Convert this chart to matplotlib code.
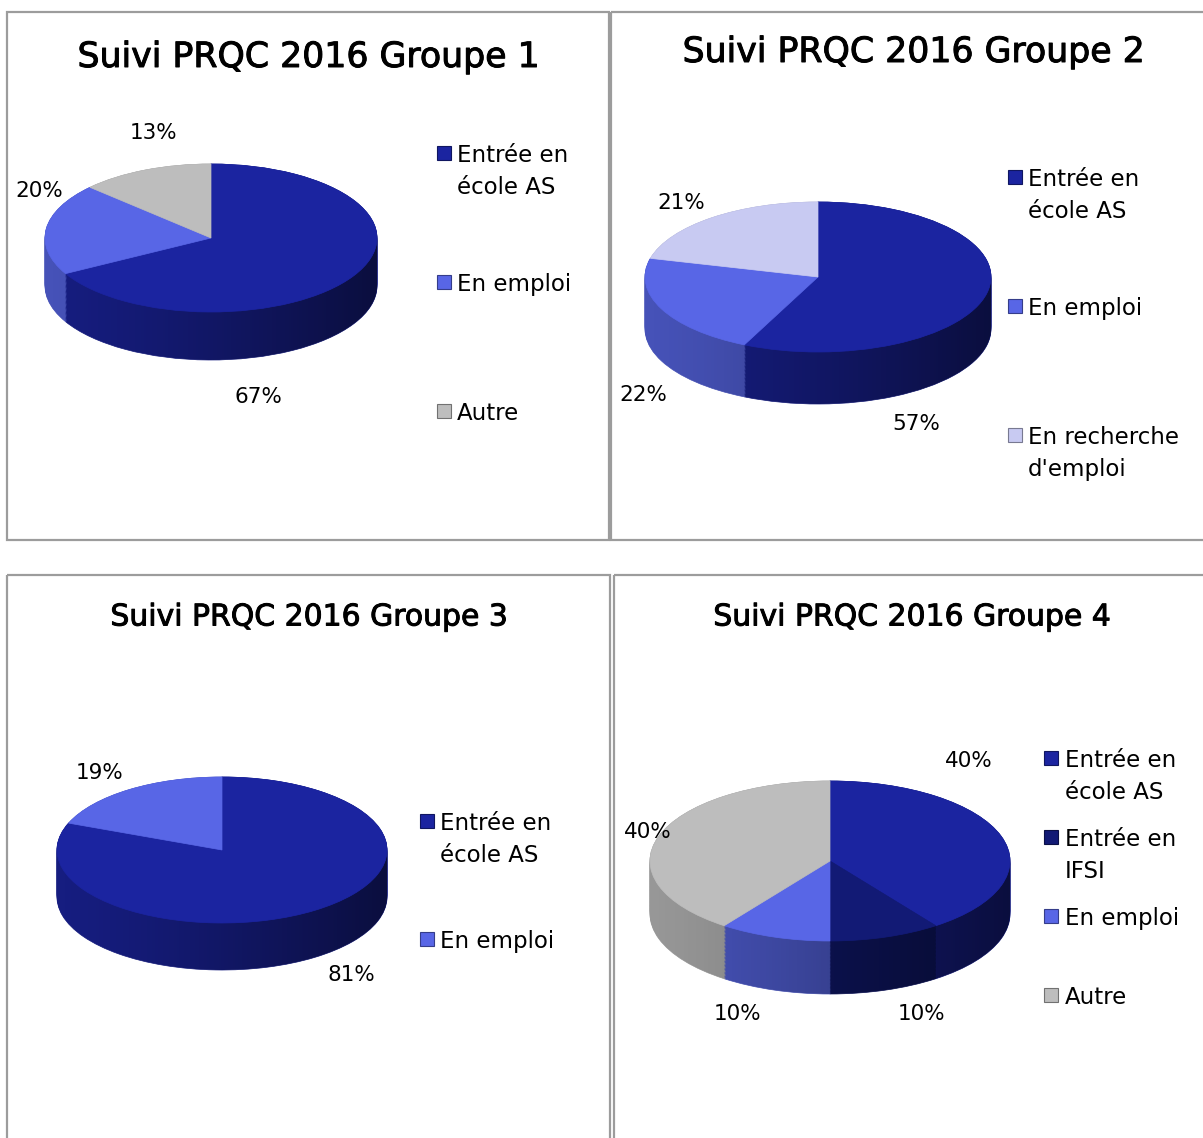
import matplotlib
matplotlib.use('Agg')
import numpy as np
import matplotlib.pyplot as plt
import matplotlib.patheffects as pe
from matplotlib.patches import Rectangle, Polygon

plt.rcParams['font.family'] = ['DejaVu Sans']

W, H = 1203, 1138

# data
titles = ["Suivi PRQC 2016 Groupe 1", "Suivi PRQC 2016 Groupe 2",
          "Suivi PRQC 2016 Groupe 3", "Suivi PRQC 2016 Groupe 4"]
g1_labels = ["Entrée en\nécole AS", "En emploi", "Autre"]
g1_values = [67, 20, 13]
g2_labels = ["Entrée en\nécole AS", "En emploi", "En recherche\nd'emploi"]
g2_values = [57, 22, 21]
g3_labels = ["Entrée en\nécole AS", "En emploi"]
g3_values = [81, 19]
g4_labels = ["Entrée en\nécole AS", "Entrée en\nIFSI", "En emploi", "Autre"]
g4_values = [40, 10, 10, 40]

colors = {
    "Entrée en\nécole AS": "#1b24a0",
    "Entrée en\nIFSI": "#121a75",
    "En emploi": "#5866e6",
    "Autre": "#bdbdbd",
    "En recherche\nd'emploi": "#c8caf2",
}

# layout in pixels (border box, pie center/radii/depth, title, legend, pct labels)
panels = [
    dict(box=(7, 12, 602, 528), pie=(211, 238, 166, 74, 48), title=(309, 57, 25),
         leg=(444, 457, 162, 129),
         pct=[(258, 397), (39, 191), (153, 133)]),
    dict(box=(611, 12, 620, 528), pie=(818, 277, 173, 75, 52), title=(914, 52, 25),
         leg=(1015, 1028, 186, 129),
         pct=[(916, 424), (643, 395), (681, 203)]),
    dict(box=(7, 575, 603, 600), pie=(222, 850, 165, 73, 47), title=(309, 617, 21.5),
         leg=(427, 440, 830, 118),
         pct=[(351, 975), (100, 773)]),
    dict(box=(614, 575, 620, 600), pie=(830, 861, 180, 80, 53), title=(912, 617, 21.5),
         leg=(1051, 1065, 767, 79),
         pct=[(969, 761), (921, 1014), (737, 1014), (648, 832)]),
]
groups = [(g1_labels, g1_values), (g2_labels, g2_values),
          (g3_labels, g3_values), (g4_labels, g4_values)]


def darken(c, f):
    r, g, b = matplotlib.colors.to_rgb(c)
    return (r * f, g * f, b * f)


fig = plt.figure(figsize=(W / 100, H / 100), dpi=100)
ov = fig.add_axes([0, 0, 1, 1], zorder=3)
ov.set_xlim(0, W)
ov.set_ylim(H, 0)
ov.axis('off')

for k, (p, (labels, values)) in enumerate(zip(panels, groups)):
    bx, by, bw, bh = p['box']
    ov.add_patch(Rectangle((bx, by), bw, bh, fill=False, edgecolor='#9c9c9c', linewidth=1.6))

    cx, cy, rx, ry, depth = p['pie']
    d = depth / ry
    top_px = cy - 1.1 * ry
    h_px = (2.2 + d) * ry
    ax = fig.add_axes([(cx - 1.1 * rx) / W, 1 - (top_px + h_px) / H, 2.2 * rx / W, h_px / H])
    cols = [colors[l] for l in labels]
    side_cols = [darken(c, 0.8) for c in cols]

    # side of the 3D pie: stacked layers
    for t in np.linspace(d, 0, 40):
        ws, _ = ax.pie(values, colors=side_cols, startangle=90, counterclock=False,
                       center=(0, -t), radius=1, wedgeprops=dict(linewidth=0.5))
        for w in ws:
            w.set_edgecolor(w.get_facecolor())
            w.set_zorder(1)
    # horizontal shading on the side
    th = np.linspace(np.pi, 2 * np.pi, 200)
    pts = np.vstack([np.column_stack([np.cos(th), np.sin(th)]),
                     np.column_stack([np.cos(th[::-1]), np.sin(th[::-1]) - d])])
    clip = Polygon(pts, closed=True, transform=ax.transData)
    grad = np.zeros((1, 256, 4))
    grad[..., 3] = np.linspace(0.0, 0.6, 256) ** 1.3
    im = ax.imshow(grad, extent=(-1, 1, -1 - d, 0), aspect='auto', zorder=1.5)
    im.set_clip_path(clip)
    # top
    ws, _ = ax.pie(values, colors=cols, startangle=90, counterclock=False,
                   radius=1, wedgeprops=dict(linewidth=0.5))
    for w in ws:
        w.set_edgecolor(w.get_facecolor())
        w.set_zorder(2)
    ax.set_aspect('auto')
    ax.set_xlim(-1.1, 1.1)
    ax.set_ylim(-1.1 - d, 1.1)
    ax.axis('off')

    # title
    tx, ty, ts = p['title']
    ov.text(tx, ty, titles[k], ha='center', va='center', fontsize=ts, color='black',
            path_effects=[pe.withStroke(linewidth=0.7, foreground='black')])

    # percentage labels
    for (lx, ly), v in zip(p['pct'], values):
        ov.text(lx, ly, f"{v}%", ha='center', va='center', fontsize=15.5, color='black')

    # legend
    mx, tx2, y0, step = p['leg']
    for i, (lab, c) in enumerate(zip(labels, cols)):
        yb = y0 + i * step
        ov.add_patch(Rectangle((mx - 7, yb - 16), 14, 14, facecolor=c,
                               edgecolor=darken(c, 0.6), linewidth=0.8))
        for j, line in enumerate(lab.split('\n')):
            ov.text(tx2, yb + j * 32, line, ha='left', va='baseline', fontsize=16.5,
                    color='black')

fig.savefig('out.png', dpi=100, facecolor='white')
